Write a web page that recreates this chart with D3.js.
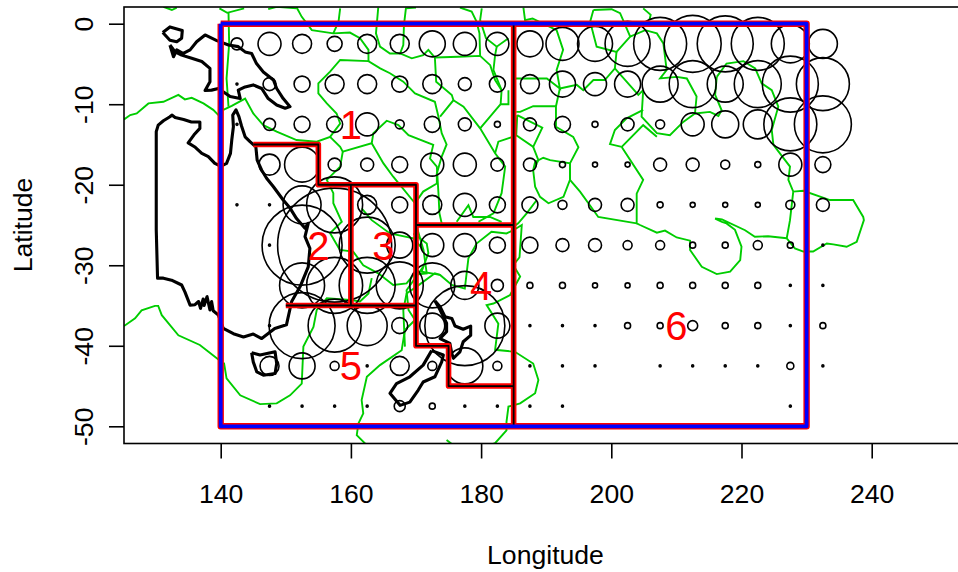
<!DOCTYPE html>
<html>
<head>
<meta charset="utf-8">
<script src="https://cdn.jsdelivr.net/npm/d3@7"></script>
<style>
body { margin: 0; background: #fff; }
text { font-family: "Liberation Sans", Arial, sans-serif; fill: #000; }
</style>
</head>
<body>
<svg id="chart" width="958" height="572"></svg>
<script>
var lonTicks = [140, 160, 180, 200, 220, 240];
var latTicks = [0, -10, -20, -30, -40, -50];
var cellLons = [142.5, 147.5, 152.5, 157.5, 162.5, 167.5, 172.5, 177.5, 182.5, 187.5, 192.5, 197.5, 202.5, 207.5, 212.5, 217.5, 222.5, 227.5, 232.5];
var cellLats = [-2.5, -7.5, -12.5, -17.5, -22.5, -27.5, -32.5, -37.5, -42.5, -47.5];
var cellValues = [
  [12, 23, 19, 15, 19, 19, 26, 23, 23, 26, 33, 35, 45, 53, 57, 56, 53, 38, 29],
  [2, 13, 16, 19, 19, 16, 19, 13, 16, 19, 26, 23, 26, 36, 47, 36, 47, 56, 53],
  [2, 12, 16, 16, 23, 9, 16, 13, 6, 13, 16, 6, 13, 9, 23, 27, 29, 53, 57],
  [0, 21, 35, 13, 13, 16, 23, 23, 13, 13, 6, 5, 5, 13, 13, 9, 6, 23, 16],
  [2, 2, 38, 56, 19, 16, 19, 23, 16, 16, 9, 13, 13, 6, 5, 5, 5, 9, 13],
  [0, 2, 80, 114, 56, 26, 23, 23, 16, 16, 13, 13, 9, 9, 6, 6, 9, 6, 2],
  [0, 0, 45, 56, 56, 47, 45, 28, 12, 6, 6, 5, 5, 6, 6, 6, 6, 2, 2],
  [0, 2, 66, 53, 40, 16, 25, 80, 25, 2, 2, 2, 6, 6, 10, 6, 6, 2, 6],
  [0, 19, 26, 9, 2, 19, 9, 36, 9, 2, 2, 2, 0, 2, 2, 2, 2, 7, 2],
  [0, 2, 2, 2, 2, 11, 6, 2, 2, 2, 2, 0, 0, 0, 0, 0, 0, 2, 0]
];

var regionNames = ["1", "2", "3", "4", "5", "6"];
var regionLons = [160, 155, 165, 180, 160, 210];
var regionLats = [-12.5, -27.5, -27.5, -32.5, -42.5, -37.5];

var outerBox = [[140, 0], [230, 0], [230, -50], [140, -50], [140, 0]];
var regionLines = [
  [[185, 0], [185, -50]],
  [[145, -15], [155, -15], [155, -20], [170, -20], [170, -40], [175, -40], [175, -45], [185, -45]],
  [[170, -25], [185, -25]],
  [[160, -20], [160, -35]],
  [[150, -35], [170, -35]]
];

var coast = [
  // Australia
  [[130.1, -25.6], [130.1, -13.4], [130.4, -12.6], [131.2, -12.05], [132.2, -11.55], [132.5, -11.35], [133, -11.65], [134.3, -11.9], [135.5, -12.2], [136.8, -12.2], [136.8, -13], [135.9, -13.8], [135, -14.8], [136.1, -15.35], [137.1, -16.1], [138.1, -16.5], [139.1, -17.35], [140.05, -17.7], [140.9, -17.35], [141.5, -16.1], [141.7, -14.45], [141.95, -12.8], [141.85, -11.35], [142.35, -10.7], [142.8, -11.55], [143.2, -12.7], [143.75, -14.05], [144.5, -14.65], [145.4, -15.3], [145.6, -16.95], [146.3, -18.2], [147.05, -19.2], [148.1, -20.25], [149.6, -21.9], [150.65, -22.9], [151.65, -24.2], [152.95, -25.4], [153.45, -24.8], [152.95, -26.45], [153.7, -27.9], [153.45, -30.2], [152.2, -32.65], [150.9, -34.5], [150.1, -37.4], [148.3, -37.85], [146.3, -39.1], [145, -38.55], [143.5, -38.9], [141.95, -38.5], [140.4, -37.85], [139.65, -36.2], [138.85, -35.65], [138.6, -34.5], [138.35, -35.55], [137.9, -33.9], [137.45, -35], [137.3, -34.2], [136.9, -35.35], [136.6, -34.5], [136.05, -34.9], [135.3, -34.95], [134.5, -33.3], [134, -32.45], [132.45, -31.85], [131.2, -31.6], [130.3, -31.6], [130.1, -25.6]],
  // New Guinea
  [[131.1, -1.1], [132.2, -0.4], [134.1, -0.85], [134, -1.8], [133.25, -2.25], [132.2, -2.05], [131.1, -1.1]],
  [[132.2, -2.65], [132.75, -4.1], [133.25, -3.25], [134.25, -3.7], [135.3, -3.25], [136.3, -2.25], [137.6, -1.4], [139.4, -2.1], [141.2, -2.65], [142.7, -2.85], [143.75, -3.5], [144.75, -3.7], [145.5, -4.95], [146.55, -6], [148.1, -7], [148.6, -8.05], [149.6, -9.3], [150.65, -10.3], [149.9, -10.5], [148.6, -10.1], [147.3, -9.3], [146.3, -8.05], [145, -7.6], [143.75, -7.85], [142.7, -8.25], [143, -9.3], [141.45, -9.05], [139.65, -8.05], [138.6, -8.25], [137.6, -8.3], [138.35, -7.2], [138.35, -5.55], [137.1, -4.7], [135.55, -4.3], [134, -3.9], [133, -3.5], [132.2, -2.65]],
  // Tasmania
  [[144.75, -40.85], [146.05, -41.15], [148.35, -40.75], [148.6, -42.2], [148.35, -43.45], [146.55, -43.65], [145.55, -43.25], [145, -42], [144.75, -40.85]],
  // New Zealand
  [[172.9, -34.4], [173.7, -35.15], [174.45, -36.4], [175.5, -36.6], [176, -37.55], [177.25, -37.95], [178.4, -37.55], [178.4, -38.7], [177.25, -39.5], [176.75, -40.75], [175.75, -41.55], [175.5, -40.95], [175.2, -39.7], [173.7, -39.1], [174.7, -38.25], [174.7, -37.2], [173.7, -35.55], [172.9, -34.4]],
  [[172.4, -40.6], [174.2, -41.15], [173.95, -42], [172.9, -43.85], [171.1, -44.5], [170.35, -45.5], [169.05, -47], [167.55, -47.4], [166, -45.9], [167, -44.7], [169.05, -43.85], [171.1, -42.4], [172.4, -40.6]]
];

var eezLines = [
  [[125.15, -11.9], [126.1, -11.35], [127.1, -11.15], [128.9, -9.9], [131.2, -9.7], [133.5, -8.85], [134.5, -9.4], [135.55, -9.2], [137.35, -9.9], [138.85, -10.7], [139.65, -11.35]],
  [[140.4, -10.7], [141.7, -10.2], [143.75, -9.3], [145, -11.15], [146.55, -12.6], [148.6, -13.4], [151.65, -14.45], [154.75, -14.65], [156.8, -14.05], [158.35, -12.4], [157.8, -11.15], [156.3, -9.9], [155, -8.65], [155, -7.4], [156.8, -5.95], [158.35, -4.5], [162.7, -4.65], [164.5, -5.55], [166, -6.15], [168.05, -7.2], [169.85, -8.65], [172.9, -9.7], [173.45, -11.55], [173.95, -13.6], [174.7, -15], [173.95, -16.5], [173.2, -18.6], [173.2, -19.85], [171.1, -20.85], [169.85, -22.3]],
  [[139.8, 1.9], [141, 1.35], [143.6, 1.9]],
  [[141.2, 1.35], [141.3, -2.45], [140.9, -6.8], [141.2, -10.3]],
  [[151.65, 2.05], [152.45, 0.85], [154, -0.8], [157.3, -1.2], [159.85, -1.1], [161.4, -1.8], [162.7, -3.25], [162.7, -4.65]],
  [[157.3, -1.2], [158.1, 0.25], [158.35, 1.9]],
  [[147.3, 1.8], [148.6, 2.1], [151.65, 1.9]],
  [[131.2, 2.1], [132.5, 1.7], [133.25, 2]],
  [[164.2, 2], [163.85, -1.2], [164.47, -2.85], [166, -3.7], [167.55, -3.7], [168.05, -2.65], [168.15, -0.15], [168.45, 1.9], [170, 2]],
  [[156.8, -14.05], [158.35, -15.3], [158.75, -15.9], [163.2, -14.85], [163.45, -13.6], [165.5, -12.05], [167.3, -12.6], [168.85, -13.85], [172.65, -15.05], [172.15, -16.75], [173.2, -17.75], [173.45, -21.05], [173.6, -23.55], [173.95, -24.8]],
  [[163.2, -14.85], [165, -17.35], [166.5, -19], [169.85, -22.3], [170.1, -24.8]],
  [[158.75, -15.9], [158.35, -17.75], [156.3, -19.4], [157.3, -21.05], [157.3, -22.3], [158.6, -24.6], [156.8, -26], [158.3, -28.1], [160.35, -28.3], [161.9, -30], [164.2, -31], [166.5, -32.45], [168.55, -32.25], [169.6, -31.2], [171.65, -31], [171.15, -28.1], [170.1, -25.2]],
  [[161.65, -22.95], [163.2, -24.4], [166, -26.05], [169.6, -26.65], [171.15, -28.1]],
  [[167.55, -3.7], [169.35, -4.3], [171.1, -3.9], [171.9, -3.25], [172.9, -4.2]],
  [[172.9, -4.2], [176.5, -4.1], [179.85, -4], [181.4, -5.15], [182.15, -7], [183.15, -8.25], [183, -10], [179.85, -13]],
  [[176.75, 2], [178.55, 1.5], [179.3, 0.25], [179.75, -1.2], [179.85, -4]],
  [[180.1, 1.9], [179.85, 0.45], [180.75, -1.8], [182.4, -2.85], [184.2, -1.8]],
  [[182.4, -2.85], [182.15, -3.9], [181.9, -5.75], [183.15, -8.25]],
  [[184.2, -8.25], [184.2, -10], [183, -10]],
  [[172.9, -4.2], [173.1, -7.2], [175.5, -8.85], [175.75, -9.5], [173.7, -11.55]],
  [[175.75, -9.5], [177.3, -10.3], [179.85, -13], [182.15, -16.1], [183.7, -17.75], [183.15, -21.05], [181.9, -23.55], [179.6, -24.6]],
  [[182.15, -16.1], [182.65, -14.65], [184.7, -14.1], [185.4, -13.85]],
  [[185.4, -10.95], [186, -10.95], [188, -10.25], [191.5, -10.25], [191.5, -12.8], [194.15, -14.05], [194.95, -15.35], [193.65, -17.35], [193.65, -19.4], [195.2, -20.85], [198, -24], [203.9, -24.8]],
  [[185, -6.8], [190.1, -6.8], [192.1, -8.05], [191.6, -5.75], [192.6, -3.25], [191.6, -0.8], [187.9, 0.65], [186.75, 0.45], [186.5, 2]],
  [[192.1, -8.05], [191.5, -10.25]],
  [[192.1, -8.05], [194.7, -7.6], [195.7, -8.25], [197.25, -7], [199, -7], [200.55, -5.55], [204.15, -8.85], [204.9, -8.25]],
  [[200.8, -3.5], [200.55, -5.55]],
  [[197.25, 1.7], [196.75, 0.25], [197.75, -2.85], [200.8, -3.5], [202.9, -1.6], [201.35, 1.3], [200.05, 1.8], [197.25, 1.7]],
  [[204.9, 1.9], [206.05, 1.1], [205.85, 0.45]],
  [[202.9, -1.6], [205.2, -0.8], [207, -1.2], [208, -2.45], [208.5, -5.75], [207.5, -6.8], [210.05, -6.6], [211.6, -6.8], [213.1, -9.05], [212.85, -11.15], [211.05, -12.2], [209, -13.85], [207, -13.6], [204.65, -11.55], [204.9, -8.25]],
  [[201.6, -15.3], [199.8, -14.95], [200.55, -13.2], [202.35, -11.75], [204.9, -10.7]],
  [[201.6, -15.3], [204.9, -12.6], [207, -14.05]],
  [[201.6, -15.3], [204.9, -19.4], [203.9, -21.1], [203.9, -24.8], [204.41, -25], [207, -25.95], [208.25, -25.7], [210.05, -26.55], [212.1, -26.95], [212.1, -28.1], [213.9, -30.2], [216.2, -31.1], [218.25, -30.8], [219.8, -29.35], [220, -27.7], [219, -25.6], [217.7, -24.8], [217, -24.6], [215.95, -24.2], [217, -24.3], [220.55, -25.65], [222.05, -26.45], [224.1, -26.4], [226.95, -26.65]],
  [[216.2, -6.6], [217.7, -4.95], [220.3, -4.65], [222.1, -5.55], [223.1, -7.4], [224.65, -8.25], [225.65, -10.3], [224.65, -13.2], [224.9, -15.05], [227.45, -17.75], [227.2, -19.4], [227.95, -20.85], [229.5, -20.75], [233.6, -21.9], [237.15, -21.9], [238.7, -24], [238.8, -24.4], [237.7, -27.1], [236.15, -27.7], [234.1, -27.4], [233.1, -27.3], [231, -28.3], [229.5, -28.3], [228.2, -27.9], [226.95, -26.65], [227.45, -24.4], [227.95, -20.85]],
  [[216.2, -6.6], [215.95, -8.85], [216.95, -10.75], [216.45, -11.45], [215.15, -10.95], [212.85, -11.15]],
  [[185.55, -11.35], [187, -11.95], [189.4, -12.9], [188, -15.3], [185.4, -13.85], [185.55, -11.35]],
  [[188, -15.3], [188.8, -16.95], [188, -18.2], [188.3, -20.25], [189.05, -21.5], [190.35, -22.3], [192.65, -21.5], [193.65, -19.4], [193.65, -17.35], [190.6, -16.95], [189.55, -16.65], [188.3, -17.15], [188, -18.2]],
  [[188.55, -21.9], [187, -23.55], [185.7, -24.8], [184.95, -25.2]],
  [[176.25, -24.6], [178.05, -22.55], [178.8, -24], [181.35, -24], [183.15, -24.6]],
  [[169.6, -26.05], [171.65, -27.3], [171.9, -28.5], [170.85, -30.8], [173.7, -31.2], [175.5, -32.45], [177.5, -32.9], [178.05, -29.15], [179.3, -27.3], [181.6, -25.85], [183.9, -26.05], [184.95, -25.65], [186.25, -25], [185.9, -29], [184.95, -30], [186, -31.4], [184.45, -33.7], [181.9, -34.75], [180.85, -34.95], [182.65, -37.25], [182.15, -40.5], [185.2, -40.75], [188, -42.2], [188.8, -44.25], [188.3, -45.9], [186, -47.15], [184.2, -47.55], [183.9, -49.45], [183.9, -50.5], [182.15, -52.1], [180.85, -52.5]],
  [[171.1, -30.2], [168.55, -33.1], [168.85, -35.55], [169.85, -36.8], [168.3, -38.05], [167.8, -40.55], [164.47, -42.4], [162.45, -43.85], [161.65, -46.75], [161.9, -48.4], [161.15, -49.65], [160.9, -51.1], [162.7, -52.55]],
  [[174.7, -51.7], [175.5, -52.2]],
  [[125.15, -37.55], [126.85, -36.6], [127.85, -35.6], [129.9, -35.05], [130.4, -35.05], [130.95, -36.2], [133.5, -38.7], [136.8, -39.9], [139.65, -41.7]],
  [[140.5, -42.1], [140.9, -44.05], [143, -46.15], [146.05, -47.25], [148.6, -47.15], [150.65, -46.15], [152.45, -44.7], [152.7, -40.1], [154.25, -37.65], [154.75, -35.55], [156.3, -34.1], [159.85, -34.3], [161.4, -34.5], [162.7, -33.5], [163.2, -31.6]],
  [[168.3, -40.1], [168.05, -35.55], [168.55, -33.5], [170.1, -32.65], [172.9, -31], [173.7, -31.2]]
];

var svg = d3.select("#chart");
var margin = { top: 7, left: 124, bottom: 443.5 };
var plotWidth = 958 - margin.left;

var x = d3.scaleLinear().domain([140, 240]).range([220.7, 871.7]);
var y = d3.scaleLinear().domain([0, -50]).range([23.7, 426.3]);
var size = d3.scaleLinear().domain([0, 120]).range([0, 60]);

var path = d3.line()
  .x(function(d) { return x(d[0]); })
  .y(function(d) { return y(d[1]); });

svg.append("defs")
  .append("clipPath")
  .attr("id", "plot")
  .append("rect")
  .attr("x", margin.left)
  .attr("y", margin.top)
  .attr("width", plotWidth)
  .attr("height", margin.bottom - margin.top);

var g = svg.append("g").attr("clip-path", "url(#plot)");

g.selectAll(".eez")
  .data(eezLines)
  .enter()
  .append("path")
  .attr("class", "eez")
  .attr("d", path)
  .attr("fill", "none")
  .attr("stroke", "#00cd00")
  .attr("stroke-width", 1.9);

// one circle per cell, empty cells are skipped
var cells = [];
cellLats.forEach(function(lat, i) {
  cellLons.forEach(function(lon, j) {
    if (cellValues[i][j] > 0) cells.push({ lon: lon, lat: lat, value: cellValues[i][j] });
  });
});

g.selectAll(".cell")
  .data(cells)
  .enter()
  .append("circle")
  .attr("class", "cell")
  .attr("cx", function(d) { return x(d.lon); })
  .attr("cy", function(d) { return y(d.lat); })
  .attr("r", function(d) { return size(d.value); })
  .attr("fill", "none")
  .attr("stroke", "#000")
  .attr("stroke-width", 1.6);

g.selectAll(".coast")
  .data(coast)
  .enter()
  .append("path")
  .attr("class", "coast")
  .attr("d", path)
  .attr("fill", "none")
  .attr("stroke", "#000")
  .attr("stroke-width", 3.1)
  .attr("stroke-linejoin", "round");

function drawLines(lines, colour, width) {
  g.append("g")
    .selectAll("path")
    .data(lines)
    .enter()
    .append("path")
    .attr("d", path)
    .attr("fill", "none")
    .attr("stroke", colour)
    .attr("stroke-width", width)
    .attr("stroke-linejoin", "round");
}

drawLines([outerBox], "#ff0000", 6.4);
drawLines(regionLines, "#ff0000", 5.6);
drawLines(regionLines, "#000", 1.8);
drawLines([outerBox], "#0000ff", 3.8);

g.selectAll(".region")
  .data(regionNames)
  .enter()
  .append("text")
  .attr("class", "region")
  .attr("x", function(d, i) { return x(regionLons[i]); })
  .attr("y", function(d, i) { return y(regionLats[i]); })
  .attr("dy", "0.36em")
  .attr("text-anchor", "middle")
  .attr("font-size", 40)
  .style("fill", "#ff0000")
  .text(function(d) { return d; });

// box, right side falls outside the picture
svg.append("rect")
  .attr("x", margin.left)
  .attr("y", margin.top)
  .attr("width", plotWidth + 10)
  .attr("height", margin.bottom - margin.top)
  .attr("fill", "none")
  .attr("stroke", "#000")
  .attr("stroke-width", 1.6);

var xAxis = svg.append("g")
  .attr("transform", "translate(0," + margin.bottom + ")")
  .call(d3.axisBottom(x).tickValues(lonTicks).tickFormat(String).tickSize(15).tickSizeOuter(0).tickPadding(26));

var yAxis = svg.append("g")
  .attr("transform", "translate(" + margin.left + ",0)")
  .call(d3.axisLeft(y).tickValues(latTicks).tickFormat(String).tickSize(15).tickSizeOuter(0));

xAxis.select(".domain").remove();
yAxis.select(".domain").remove();
svg.selectAll(".tick line").attr("stroke-width", 1.6);
svg.selectAll(".tick text").attr("font-size", 26.6);

yAxis.selectAll(".tick text")
  .attr("x", 0)
  .attr("dy", 0)
  .attr("text-anchor", "middle")
  .attr("transform", "translate(-31.5,0) rotate(-90)");

svg.append("text")
  .attr("x", 545.5)
  .attr("y", 564)
  .attr("text-anchor", "middle")
  .attr("font-size", 26.6)
  .text("Longitude");

svg.append("text")
  .attr("transform", "translate(32,225) rotate(-90)")
  .attr("text-anchor", "middle")
  .attr("font-size", 26.6)
  .text("Latitude");
</script>
</body>
</html>
